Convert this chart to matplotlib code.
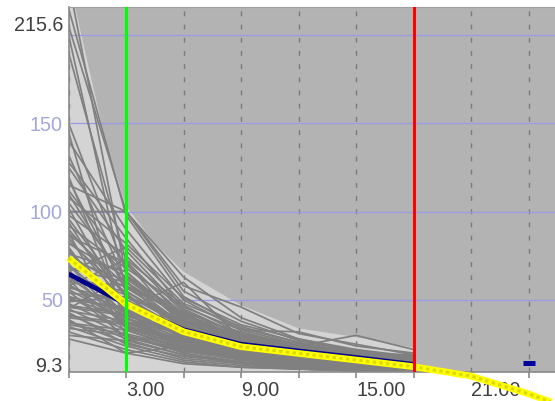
import matplotlib
matplotlib.use("Agg")
import matplotlib.pyplot as plt
import matplotlib.transforms as mtransforms

plt.rcParams['font.family'] = ['Liberation Sans', 'DejaVu Sans']

# sampling times (h) of the individual concentration profiles
hours = [0, 3, 6, 9, 12, 15, 18]

# individual observed profiles, one row per subject
subjects = [
    [215, 98, 52, 34, 26, 20, 17],
    [205, 100, 63, 40, 28, 22, 18],
    [190, 72, 40, 28, 22, 18, 16],
    [128, 85, 45, 30, 24, 19, 17],
    [115, 100, 58, 46, 31, 25, 19],
    [150, 66, 38, 26, 20, 17, 15],
    [140, 90, 50, 33, 25, 21, 18],
    [132, 60, 36, 24, 19, 16, 15],
    [125, 78, 44, 30, 23, 19, 16],
    [118, 55, 34, 25, 20, 17, 15],
    [112, 70, 42, 29, 24, 30, 22],
    [105, 62, 39, 27, 21, 18, 16],
    [100, 100, 55, 38, 27, 21, 17],
    [96, 52, 32, 23, 18, 15, 14],
    [92, 68, 46, 33, 32, 24, 20],
    [88, 58, 35, 26, 20, 16, 15],
    [85, 48, 30, 22, 17, 14, 13],
    [82, 63, 41, 30, 24, 20, 17],
    [78, 45, 29, 21, 16, 13, 13],
    [75, 57, 37, 27, 22, 18, 16],
    [72, 50, 33, 24, 19, 16, 15],
    [70, 42, 27, 20, 16, 13, 13],
    [68, 60, 40, 29, 23, 19, 17],
    [65, 47, 31, 23, 18, 15, 14],
    [63, 40, 26, 19, 15, 12, 13],
    [60, 55, 36, 26, 21, 17, 16],
    [58, 44, 30, 22, 17, 14, 14],
    [56, 38, 25, 18, 14, 12, 13],
    [54, 50, 34, 25, 20, 16, 15],
    [52, 35, 24, 18, 14, 12, 12],
    [50, 46, 32, 24, 19, 16, 15],
    [48, 33, 22, 17, 13, 11, 12],
    [47, 42, 29, 21, 17, 14, 14],
    [45, 30, 20, 15, 12, 11, 12],
    [44, 38, 27, 20, 16, 13, 13],
    [42, 28, 19, 14, 12, 10, 11],
    [40, 36, 25, 19, 15, 13, 13],
    [38, 26, 17, 14, 11, 10, 11],
    [37, 33, 23, 18, 14, 12, 12],
    [35, 24, 16, 13, 11, 10, 11],
    [34, 30, 21, 16, 13, 11, 12],
    [32, 22, 15, 12, 11, 10, 11],
    [30, 27, 19, 15, 12, 11, 11],
    [28, 20, 14, 12, 11, 10, 10],
    [66, 80, 48, 35, 26, 20, 18],
    [58, 73, 47, 31, 25, 20, 17],
    [45, 64, 42, 28, 22, 18, 16],
    [88, 30, 22, 17, 14, 12, 12],
    [120, 40, 28, 20, 16, 13, 13],
    [145, 34, 24, 18, 15, 12, 12],
    [200, 55, 35, 25, 19, 16, 15],
    [230, 64, 37, 27, 21, 17, 16],
    [102, 45, 60, 28, 20, 16, 14],
    [80, 36, 44, 22, 25, 15, 13],
    [62, 27, 30, 26, 18, 22, 15],
    [52, 44, 20, 24, 15, 14, 19],
    [39, 20, 24, 16, 19, 12, 14],
    [98, 75, 43, 31, 23, 19, 17],
    [76, 66, 39, 28, 22, 18, 16],
    [64, 53, 35, 27, 19, 17, 15],
    [57, 49, 28, 21, 18, 15, 14],
    [46, 41, 31, 22, 17, 14, 13],
    [41, 37, 26, 23, 16, 13, 13],
    [36, 31, 23, 17, 15, 12, 12],
    [90, 52, 38, 29, 21, 19, 18],
    [110, 58, 41, 32, 24, 20, 19],
    [70, 35, 28, 19, 16, 14, 13],
    [94, 43, 30, 21, 17, 15, 14],
    [86, 71, 35, 25, 20, 16, 15],
    [79, 39, 33, 24, 18, 14, 13],
    [73, 61, 29, 20, 15, 13, 12],
    [67, 34, 27, 23, 17, 15, 14],
    [61, 58, 42, 27, 22, 17, 15],
    [55, 29, 21, 18, 14, 12, 12],
    [49, 52, 38, 26, 20, 16, 14],
    [43, 25, 18, 15, 13, 11, 11],
    [108, 82, 51, 36, 28, 21, 18],
    [83, 54, 26, 20, 15, 13, 12],
    [59, 37, 32, 21, 16, 13, 12],
    [51, 40, 23, 19, 14, 12, 12],
]

# prediction interval
band_hours = [0, 1, 2, 3, 4.5, 6, 9, 12, 15, 18]
band_upper = [232, 184, 137, 103, 82, 66, 47, 34, 29, 23]
band_lower = [6, 5, 5, 4, 4, 3, 3, 2, 2, 2]

# predicted median
median_hours = [0, 3, 6, 9, 12, 15, 18, 21, 24, 27]
median_conc = [73.7, 47.7, 32.1, 23.6, 19.8, 16.1, 12.3, 7.0, -3.0, -15.0]

# observed mean
mean_hours = [0, 3, 6, 9, 12, 15, 18]
mean_conc = [64.7, 47.7, 33.2, 25.0, 21.2, 17.5, 13.6]

# trough sample
trough_hour = [24]
trough_conc = [14.4]

first_dose = 3
last_dose = 18

xtick_pos = [0, 3, 6, 9, 12, 15, 18, 21, 24]
xtick_labels = ['', '3.00', '', '9.00', '', '15.00', '', '21.00', '']
ytick_pos = [9.3, 50, 100, 150, 215.6]
ytick_labels = ['9.3', '50', '100', '150', '215.6']
ygrid_pos = [50, 100, 150, 200]

W, H = 555, 401
fig = plt.figure(figsize=(W / 100, H / 100), dpi=100)
ax = fig.add_axes([68.5 / W, 29 / H, 486.5 / W, 365 / H])
ax.set_facecolor('#b3b3b3')
ax.set_xlim(0, 486.5 / 19.17)
ax.set_ylim(9.3, 215.6)
ax.set_axisbelow(True)

ax.fill_between(band_hours, band_lower, band_upper, color='#d4d4d4',
                linewidth=0, zorder=0.2)

for level in ygrid_pos:
    ax.axhline(level, color='#9a9ae6', linewidth=0.9, zorder=0.6)

for conc in subjects:
    ax.plot(hours, conc, color='#808080', linewidth=1.25, zorder=2)

ax.plot(mean_hours, mean_conc, color='#00008b', linewidth=3.4, zorder=3,
        solid_capstyle='butt')
ax.plot(median_hours, median_conc, color='#ffff00', linewidth=4.8, zorder=4,
        clip_on=False, solid_capstyle='butt')
ax.plot(median_hours, median_conc, color='#d9d900', linewidth=2.2, zorder=4.1,
        clip_on=False, linestyle=(0, (1.1, 1.1)))
ax.plot(trough_hour, trough_conc, linestyle='none', marker='_', markersize=8,
        markeredgewidth=3.6, color='#00009c', zorder=5)

ax.axvline(first_dose, color='#00ff00', linewidth=2.2, zorder=6)
ax.axvline(last_dose, color='#ff0000', linewidth=2.2, zorder=6)

# axes decoration
ax.set_xticks(xtick_pos)
ax.set_xticklabels(xtick_labels, ha='left')
ax.tick_params(axis='x', direction='out', length=4.5, width=1.1,
               color='#808080', pad=2.0, labelsize=14.2, labelcolor='#404040')
ax.xaxis.grid(True, color='#7a7a7a', linewidth=1.0,
              linestyle=(0, (3.5, 6)))

ax.set_yticks(ytick_pos)
ax.set_yticklabels(ytick_labels)
ax.tick_params(axis='y', which='both', length=0, pad=4, labelsize=14.2)
ax.yaxis.grid(False)

ylabels = ax.get_yticklabels()
for lab in ylabels:
    lab.set_color('#a6a6dc')
ylabels[0].set_color('#404040')
ylabels[-1].set_color('#404040')
ylabels[0].set_transform(ylabels[0].get_transform() +
                         mtransforms.ScaledTranslation(0, 7 / 100, fig.dpi_scale_trans))
ylabels[-1].set_transform(ylabels[-1].get_transform() +
                          mtransforms.ScaledTranslation(0, -17 / 100, fig.dpi_scale_trans))

for side in ('left', 'bottom'):
    ax.spines[side].set_color('#8a8a8a')
    ax.spines[side].set_linewidth(1.2)
ax.spines['top'].set_color('#a0a0a0')
ax.spines['top'].set_linewidth(0.8)
ax.spines['right'].set_visible(False)

fig.savefig('out.png', dpi=100)
